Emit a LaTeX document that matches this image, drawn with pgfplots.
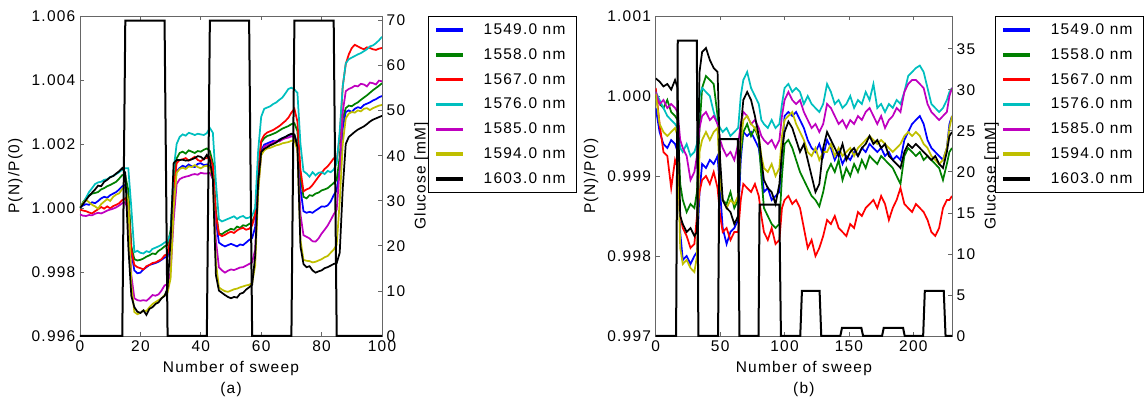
\documentclass[border=0pt]{standalone}
\usepackage{fontspec}
\setmainfont{Liberation Sans}[LetterSpace=8]
\usepackage{pgfplots}
\pgfplotsset{compat=1.18}
\usepackage{pgfplotstable}

\newcommand{\f}{\fontsize{11.6}{13.9}\selectfont}

\definecolor{cBlue}{rgb}{0,0,1}
\definecolor{cGreen}{rgb}{0,0.5,0}
\definecolor{cRed}{rgb}{1,0,0}
\definecolor{cCyan}{rgb}{0,0.75,0.75}
\definecolor{cMag}{rgb}{0.75,0,0.75}
\definecolor{cYel}{rgb}{0.75,0.75,0}

% (a) sweeps 0..100
\pgfplotstableread{
s b g r c m y k
0 1.00000 1.00000 0.99995 1.00000 0.99980 1.00000 1.00000
1 1.00008 1.00018 0.99992 1.00015 0.99976 1.00015 1.00012
2 1.00012 1.00030 0.99990 1.00032 0.99975 1.00025 1.00025
3 1.00010 1.00038 0.99986 1.00050 0.99978 1.00018 1.00038
4 1.00018 1.00045 0.99983 1.00062 0.99977 1.00010 1.00048
5 1.00015 1.00047 0.99990 1.00075 0.99982 1.00005 1.00058
6 1.00022 1.00050 0.99996 1.00080 0.99985 0.99998 1.00070
7 1.00030 1.00058 1.00003 1.00082 0.99983 1.00012 1.00068
8 1.00035 1.00062 0.99998 1.00088 0.99987 1.00020 1.00082
9 1.00032 1.00068 1.00005 1.00090 0.99992 1.00028 1.00088
10 1.00040 1.00072 0.99999 1.00097 0.99995 1.00022 1.00096
11 1.00045 1.00077 1.00006 1.00100 0.99998 1.00035 1.00100
12 1.00050 1.00082 1.00010 1.00106 1.00002 1.00042 1.00108
13 1.00058 1.00092 1.00015 1.00112 1.00008 1.00046 1.00115
14 1.00068 1.00103 1.00025 1.00120 1.00015 1.00060 1.00125
15 1.00072 1.00100 1.00030 1.00124 1.00018 1.00066 1.00110
16 1.00030 1.00055 1.00005 1.00124 0.99990 1.00020 0.99880
17 0.99860 0.99880 0.99868 1.00000 0.99790 0.99760 0.99725
18 0.99805 0.99840 0.99822 0.99862 0.99718 0.99675 0.99690
19 0.99796 0.99836 0.99815 0.99866 0.99712 0.99668 0.99676
20 0.99798 0.99838 0.99812 0.99860 0.99710 0.99672 0.99672
21 0.99808 0.99842 0.99808 0.99858 0.99712 0.99680 0.99680
22 0.99815 0.99848 0.99818 0.99865 0.99710 0.99678 0.99666
23 0.99822 0.99852 0.99822 0.99862 0.99718 0.99690 0.99685
24 0.99825 0.99858 0.99828 0.99872 0.99728 0.99700 0.99690
25 0.99828 0.99856 0.99830 0.99876 0.99726 0.99706 0.99700
26 0.99832 0.99866 0.99835 0.99880 0.99730 0.99712 0.99705
27 0.99838 0.99872 0.99840 0.99885 0.99742 0.99718 0.99718
28 0.99845 0.99880 0.99852 0.99892 0.99758 0.99728 0.99725
29 0.99848 0.99885 0.99856 0.99896 0.99762 0.99736 0.99750
30 0.99900 0.99930 0.99910 0.99920 0.99800 0.99780 0.99900
31 1.00040 1.00080 1.00060 1.00120 0.99960 1.00000 1.00140
32 1.00115 1.00155 1.00140 1.00200 1.00075 1.00110 1.00150
33 1.00125 1.00172 1.00150 1.00222 1.00090 1.00122 1.00150
34 1.00132 1.00176 1.00152 1.00230 1.00095 1.00126 1.00151
35 1.00128 1.00170 1.00156 1.00226 1.00098 1.00122 1.00148
36 1.00136 1.00180 1.00148 1.00235 1.00100 1.00130 1.00149
37 1.00130 1.00176 1.00154 1.00232 1.00104 1.00128 1.00152
38 1.00128 1.00172 1.00160 1.00228 1.00106 1.00134 1.00156
39 1.00138 1.00178 1.00150 1.00232 1.00104 1.00128 1.00162
40 1.00140 1.00176 1.00146 1.00230 1.00110 1.00124 1.00160
41 1.00134 1.00182 1.00154 1.00228 1.00108 1.00130 1.00152
42 1.00136 1.00186 1.00156 1.00234 1.00108 1.00132 1.00166
43 1.00130 1.00178 1.00160 1.00250 1.00110 1.00126 1.00150
44 1.00100 1.00140 1.00130 1.00235 1.00090 1.00095 1.00090
45 0.99960 0.99990 0.99980 1.00080 0.99900 0.99830 0.99790
46 0.99892 0.99920 0.99918 0.99965 0.99815 0.99752 0.99742
47 0.99885 0.99918 0.99912 0.99958 0.99805 0.99745 0.99735
48 0.99880 0.99925 0.99916 0.99962 0.99798 0.99740 0.99728
49 0.99884 0.99930 0.99922 0.99966 0.99804 0.99738 0.99722
50 0.99888 0.99935 0.99926 0.99970 0.99808 0.99742 0.99718
51 0.99884 0.99932 0.99922 0.99974 0.99806 0.99746 0.99722
52 0.99880 0.99942 0.99930 0.99966 0.99810 0.99748 0.99720
53 0.99886 0.99938 0.99935 0.99972 0.99814 0.99752 0.99732
54 0.99884 0.99946 0.99938 0.99975 0.99815 0.99755 0.99735
55 0.99892 0.99944 0.99932 0.99968 0.99820 0.99758 0.99745
56 0.99900 0.99950 0.99935 0.99970 0.99825 0.99760 0.99752
57 0.99906 0.99955 0.99945 0.99976 0.99830 0.99765 0.99760
58 0.99940 0.99980 0.99980 1.00000 0.99870 0.99820 0.99850
59 1.00080 1.00120 1.00120 1.00180 1.00060 1.00050 1.00080
60 1.00180 1.00205 1.00210 1.00285 1.00170 1.00165 1.00175
61 1.00198 1.00218 1.00228 1.00310 1.00192 1.00180 1.00185
62 1.00202 1.00225 1.00236 1.00314 1.00196 1.00186 1.00190
63 1.00206 1.00228 1.00240 1.00318 1.00200 1.00188 1.00196
64 1.00210 1.00232 1.00244 1.00325 1.00205 1.00192 1.00200
65 1.00206 1.00236 1.00250 1.00330 1.00210 1.00196 1.00205
66 1.00214 1.00242 1.00256 1.00338 1.00208 1.00198 1.00212
67 1.00218 1.00248 1.00264 1.00345 1.00214 1.00202 1.00218
68 1.00222 1.00252 1.00272 1.00358 1.00218 1.00204 1.00222
69 1.00226 1.00256 1.00282 1.00372 1.00220 1.00206 1.00228
70 1.00230 1.00262 1.00298 1.00376 1.00224 1.00210 1.00232
71 1.00228 1.00265 1.00310 1.00370 1.00222 1.00212 1.00230
72 1.00200 1.00240 1.00270 1.00360 1.00190 1.00180 1.00190
73 1.00060 1.00100 1.00120 1.00200 0.99980 0.99900 0.99880
74 0.99990 1.00035 1.00052 1.00115 0.99915 0.99838 0.99825
75 0.99985 1.00030 1.00058 1.00108 0.99910 0.99835 0.99815
76 0.99988 1.00040 1.00062 1.00098 0.99905 0.99834 0.99818
77 0.99985 1.00038 1.00072 1.00112 0.99896 0.99830 0.99805
78 0.99992 1.00045 1.00085 1.00102 0.99895 0.99832 0.99798
79 0.99998 1.00048 1.00098 1.00110 0.99905 0.99836 0.99802
80 1.00005 1.00055 1.00110 1.00112 0.99920 0.99840 0.99805
81 1.00004 1.00058 1.00122 1.00106 0.99932 0.99846 0.99812
82 1.00008 1.00062 1.00130 1.00116 0.99945 0.99850 0.99815
83 1.00020 1.00070 1.00142 1.00112 0.99962 0.99860 0.99820
84 1.00040 1.00078 1.00155 1.00120 0.99980 0.99870 0.99825
85 1.00055 1.00088 1.00150 1.00140 0.99995 0.99885 0.99828
86 1.00120 1.00160 1.00220 1.00240 1.00120 1.00020 0.99860
87 1.00250 1.00280 1.00380 1.00380 1.00300 1.00200 1.00060
88 1.00300 1.00312 1.00450 1.00452 1.00365 1.00280 1.00200
89 1.00305 1.00320 1.00480 1.00465 1.00372 1.00295 1.00222
90 1.00300 1.00318 1.00500 1.00470 1.00376 1.00300 1.00230
91 1.00310 1.00325 1.00510 1.00475 1.00382 1.00298 1.00238
92 1.00315 1.00330 1.00505 1.00480 1.00380 1.00305 1.00245
93 1.00312 1.00338 1.00500 1.00484 1.00388 1.00302 1.00250
94 1.00322 1.00345 1.00496 1.00490 1.00386 1.00310 1.00255
95 1.00326 1.00352 1.00502 1.00496 1.00380 1.00312 1.00262
96 1.00330 1.00360 1.00500 1.00505 1.00392 1.00306 1.00270
97 1.00336 1.00368 1.00496 1.00508 1.00390 1.00312 1.00276
98 1.00340 1.00375 1.00494 1.00515 1.00386 1.00316 1.00280
99 1.00346 1.00382 1.00498 1.00524 1.00398 1.00320 1.00284
100 1.00350 1.00390 1.00500 1.00535 1.00396 1.00322 1.00288
}\dataA

% (b) sweeps 0..230
\pgfplotstableread{
s b g r c m y k
0 0.99985 1.00000 1.00010 1.00005 1.00005 1.00003 1.00022
3 0.99955 0.99990 0.99965 0.99995 0.99990 0.99965 1.00018
6 0.99940 0.99985 0.99930 0.99985 0.99995 0.99955 1.00012
9 0.99935 0.99995 0.99925 0.99975 0.99985 0.99950 1.00015
12 0.99945 0.99980 0.99885 0.99970 0.99990 0.99955 1.00008
15 0.99940 0.99975 0.99920 0.99965 0.99985 0.99960 1.00020
17 0.99930 0.99970 0.99910 0.99960 0.99980 0.99950 1.00010
19 0.99830 0.99890 0.99850 0.99935 0.99945 0.99810 0.99850
21 0.99795 0.99870 0.99835 0.99930 0.99935 0.99790 0.99840
24 0.99800 0.99855 0.99825 0.99940 0.99925 0.99795 0.99830
27 0.99790 0.99865 0.99810 0.99925 0.99895 0.99785 0.99835
30 0.99800 0.99860 0.99815 0.99930 0.99905 0.99780 0.99825
32 0.99805 0.99880 0.99850 0.99940 0.99925 0.99800 0.99830
34 0.99880 0.99960 0.99880 1.00000 0.99960 0.99930 1.00030
36 0.99915 1.00010 0.99895 1.00010 0.99975 0.99945 1.00055
39 0.99910 1.00025 0.99900 1.00005 0.99980 0.99955 1.00060
42 0.99920 1.00020 0.99890 1.00000 0.99970 0.99945 1.00045
45 0.99915 1.00015 0.99905 0.99980 0.99975 0.99955 1.00035
48 0.99925 0.99975 0.99885 0.99965 0.99965 0.99960 1.00030
50 0.99880 0.99900 0.99850 0.99960 0.99945 0.99890 0.99920
52 0.99835 0.99870 0.99830 0.99955 0.99935 0.99870 0.99870
55 0.99815 0.99865 0.99835 0.99960 0.99925 0.99860 0.99860
58 0.99830 0.99880 0.99820 0.99950 0.99930 0.99870 0.99855
61 0.99835 0.99860 0.99830 0.99955 0.99920 0.99865 0.99840
64 0.99845 0.99870 0.99830 0.99960 0.99940 0.99875 0.99850
66 0.99920 0.99930 0.99870 1.00000 0.99965 0.99940 0.99960
68 0.99955 0.99955 0.99890 1.00020 0.99980 0.99970 0.99995
71 0.99950 0.99965 0.99885 1.00030 0.99975 0.99975 1.00005
74 0.99955 0.99950 0.99880 1.00010 0.99965 0.99965 0.99995
77 0.99945 0.99960 0.99890 1.00000 0.99970 0.99960 0.99975
80 0.99935 0.99945 0.99875 0.99990 0.99960 0.99950 0.99950
82 0.99910 0.99900 0.99850 0.99970 0.99950 0.99925 0.99920
84 0.99880 0.99860 0.99830 0.99965 0.99945 0.99910 0.99895
87 0.99885 0.99850 0.99820 0.99960 0.99940 0.99905 0.99885
90 0.99870 0.99840 0.99835 0.99970 0.99945 0.99915 0.99880
93 0.99875 0.99835 0.99815 0.99960 0.99935 0.99900 0.99865
96 0.99880 0.99840 0.99820 0.99965 0.99945 0.99910 0.99890
98 0.99930 0.99900 0.99860 0.99990 0.99975 0.99950 0.99930
100 0.99975 0.99940 0.99870 1.00010 0.99995 0.99970 0.99955
103 0.99980 0.99945 0.99875 1.00015 1.00005 0.99975 0.99968
106 0.99975 0.99935 0.99865 1.00005 0.99995 0.99980 0.99960
109 0.99980 0.99920 0.99870 1.00010 0.99990 0.99965 0.99945
112 0.99970 0.99905 0.99860 1.00005 0.99995 0.99955 0.99930
115 0.99960 0.99895 0.99835 0.99990 0.99980 0.99945 0.99940
118 0.99945 0.99885 0.99810 1.00000 0.99970 0.99930 0.99920
121 0.99935 0.99875 0.99820 0.99990 0.99960 0.99925 0.99900
124 0.99930 0.99870 0.99800 0.99985 0.99965 0.99935 0.99880
127 0.99940 0.99862 0.99810 0.99980 0.99955 0.99920 0.99890
130 0.99925 0.99880 0.99825 0.99990 0.99965 0.99930 0.99935
133 0.99945 0.99905 0.99845 1.00015 0.99990 0.99930 0.99955
136 0.99935 0.99915 0.99840 1.00005 0.99985 0.99940 0.99945
139 0.99920 0.99905 0.99850 0.99990 0.99975 0.99925 0.99935
142 0.99930 0.99920 0.99835 0.99995 0.99965 0.99935 0.99925
145 0.99915 0.99895 0.99830 0.99985 0.99970 0.99925 0.99940
148 0.99925 0.99910 0.99825 0.99990 0.99960 0.99930 0.99920
151 0.99920 0.99900 0.99840 1.00000 0.99970 0.99935 0.99930
154 0.99930 0.99915 0.99835 0.99985 0.99965 0.99925 0.99935
157 0.99925 0.99905 0.99855 0.99995 0.99975 0.99935 0.99925
160 0.99935 0.99920 0.99850 0.99990 0.99970 0.99940 0.99935
163 0.99930 0.99910 0.99860 1.00005 0.99980 0.99945 0.99940
166 0.99940 0.99925 0.99865 0.99995 0.99985 0.99950 0.99950
169 0.99935 0.99920 0.99870 1.00015 0.99975 0.99945 0.99940
172 0.99930 0.99915 0.99860 0.99985 0.99965 0.99940 0.99945
175 0.99935 0.99925 0.99875 0.99990 0.99975 0.99945 0.99935
178 0.99925 0.99920 0.99865 0.99980 0.99960 0.99940 0.99940
181 0.99930 0.99915 0.99845 0.99990 0.99970 0.99935 0.99925
184 0.99920 0.99910 0.99860 0.99985 0.99975 0.99930 0.99920
187 0.99925 0.99900 0.99870 0.99995 0.99985 0.99935 0.99915
190 0.99920 0.99890 0.99885 0.99990 0.99980 0.99940 0.99910
193 0.99945 0.99925 0.99865 1.00005 1.00005 0.99950 0.99930
196 0.99955 0.99935 0.99860 1.00025 1.00015 0.99955 0.99940
199 0.99965 0.99930 0.99855 1.00030 1.00020 0.99950 0.99935
202 0.99970 0.99925 0.99865 1.00035 1.00020 0.99955 0.99940
205 0.99975 0.99930 0.99860 1.00038 1.00015 0.99950 0.99935
208 0.99965 0.99920 0.99855 1.00030 1.00010 0.99940 0.99930
211 0.99945 0.99925 0.99845 1.00010 0.99990 0.99935 0.99925
214 0.99935 0.99920 0.99830 0.99990 0.99980 0.99925 0.99920
217 0.99930 0.99915 0.99825 0.99985 0.99975 0.99920 0.99925
220 0.99925 0.99910 0.99835 0.99980 0.99970 0.99915 0.99915
223 0.99920 0.99895 0.99860 0.99985 0.99975 0.99920 0.99910
226 0.99935 0.99915 0.99870 0.99995 0.99980 0.99935 0.99930
228 0.99965 0.99930 0.99870 1.00005 1.00000 0.99960 0.99950
230 0.99975 0.99935 0.99875 1.00010 1.00010 0.99975 0.99955
}\dataB

\pgfplotsset{
  common/.style={
    scale only axis, height=240pt,
    axis line style={black!60, line width=0.6pt},
    tick style={black!60, line width=0.6pt},
    major tick length=3pt, tick align=inside,
    tick label style={font=\f},
    label style={font=\f},
    /pgf/number format/assume math mode=true,
  },
  dax/.style={
    common,
    ytick pos=left, xtick pos=both,
    scaled y ticks=false,
    yticklabel style={/pgf/number format/fixed,
      /pgf/number format/precision=3,
      /pgf/number format/fixed zerofill},
    xlabel style={align=center},
    every axis plot/.append style={line width=1.3pt},
    legend cell align=left,
    legend style={font=\f, draw=black, line width=0.6pt,
      inner xsep=6pt, inner ysep=3.5pt, row sep=5pt, column sep=13.5pt},
    legend image code/.code={%
      \fill[##1] (0pt,-0.6pt) rectangle (18.75pt,0.6pt);},
  },
  gax/.style={
    common,
    axis x line=none, axis y line*=right,
    ytick pos=right, clip=false,
  },
}

\begin{document}
\begin{tikzpicture}
\useasboundingbox (0,0) rectangle (860.25pt,300pt);

% ---------- (a) ----------
\begin{axis}[dax, at={(60pt,48pt)}, anchor=south west, width=226.5pt,
  xmin=0, xmax=100, ymin=0.996, ymax=1.006,
  xtick={0,20,40,60,80,100},
  ytick={0.996,0.998,1.000,1.002,1.004,1.006},
  xlabel={Number of sweep\\[2pt](a)}, ylabel={P(N)/P(0)},
  legend style={at={(1.152,1)}, anchor=north west}]
\addplot[color=cBlue] table[x=s,y=b]{\dataA}; \addlegendentry{1549.0 nm}
\addplot[color=cGreen] table[x=s,y=g]{\dataA}; \addlegendentry{1558.0 nm}
\addplot[color=cRed] table[x=s,y=r]{\dataA}; \addlegendentry{1567.0 nm}
\addplot[color=cCyan] table[x=s,y=c]{\dataA}; \addlegendentry{1576.0 nm}
\addplot[color=cMag] table[x=s,y=m]{\dataA}; \addlegendentry{1585.0 nm}
\addplot[color=cYel] table[x=s,y=y]{\dataA}; \addlegendentry{1594.0 nm}
\addplot[color=black] table[x=s,y=k]{\dataA}; \addlegendentry{1603.0 nm}
\end{axis}
\begin{axis}[gax, at={(60pt,48pt)}, anchor=south west, width=226.5pt,
  xmin=0, xmax=100, ymin=0, ymax=71,
  ytick={0,10,20,30,40,50,60,70},
  ylabel={Glucose [mM]}]
\addplot[black, line width=1.5pt] coordinates {
  (0,0)(14,0)(15,70)(28,70)(29,0)(42,0)(43,70)(56,70)(57,0)
  (70,0)(71,70)(84,70)(85,0)(100,0)};
\end{axis}

% ---------- (b) ----------
\begin{axis}[dax, at={(491.8pt,48pt)}, anchor=south west, width=222.2pt,
  xmin=0, xmax=230, ymin=0.997, ymax=1.001,
  xtick={0,50,100,150,200},
  ytick={0.997,0.998,0.999,1.000,1.001},
  xlabel={Number of sweep\\[2pt](b)}, ylabel={P(N)/P(0)},
  legend style={at={(1.145,1)}, anchor=north west}]
\addplot[color=cBlue] table[x=s,y=b]{\dataB}; \addlegendentry{1549.0 nm}
\addplot[color=cGreen] table[x=s,y=g]{\dataB}; \addlegendentry{1558.0 nm}
\addplot[color=cRed] table[x=s,y=r]{\dataB}; \addlegendentry{1567.0 nm}
\addplot[color=cCyan] table[x=s,y=c]{\dataB}; \addlegendentry{1576.0 nm}
\addplot[color=cMag] table[x=s,y=m]{\dataB}; \addlegendentry{1585.0 nm}
\addplot[color=cYel] table[x=s,y=y]{\dataB}; \addlegendentry{1594.0 nm}
\addplot[color=black] table[x=s,y=k]{\dataB}; \addlegendentry{1603.0 nm}
\end{axis}
\begin{axis}[gax, at={(491.8pt,48pt)}, anchor=south west, width=222.2pt,
  xmin=0, xmax=230, ymin=0, ymax=39,
  ytick={0,5,10,15,20,25,30,35},
  ylabel={Glucose [mM]}]
\addplot[black, line width=1.5pt] coordinates {
  (0,0)(15.8,0)(17.1,36)(31.9,36)(33.1,0)(48.4,0)(49.5,24)(63.7,24)(65,0)
  (79.8,0)(80.6,16)(95.9,16)(97.2,0)(112.2,0)(113.5,5.5)(127.2,5.5)(128.5,0)
  (143.3,0)(144.6,1)(159.6,1)(161,0)(175.7,0)(177,1)(192,1)(193.3,0)
  (207.6,0)(208.9,5.5)(223.6,5.5)(225,0)(230,0)};
\end{axis}
\end{tikzpicture}
\end{document}
